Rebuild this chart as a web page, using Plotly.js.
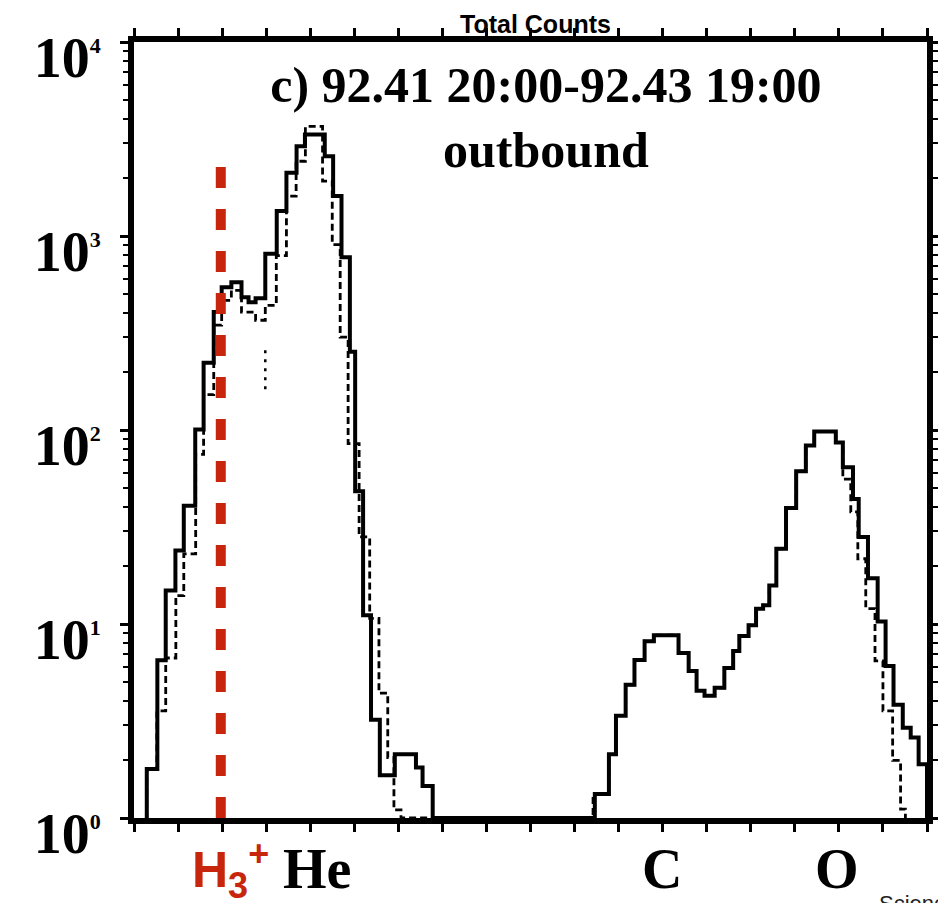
<!DOCTYPE html>
<html>
<head>
<meta charset="utf-8">
<script src="https://cdn.plot.ly/plotly-3.0.1.min.js"></script>
<style>html,body{margin:0;padding:0;background:#fff;}#chart{width:938px;height:903px;}</style>
</head>
<body>
<div id="chart"></div>
<script>
// ---- data (mass/charge bin edges and total counts) ----
// solid histogram, H/He group
const solidHeEdges = [0.29, 0.53, 0.72, 0.94, 1.13, 1.39, 1.58, 1.81, 1.99, 2.21, 2.44, 2.60, 2.76, 2.98, 3.24, 3.46, 3.69, 3.88, 4.33, 4.52, 4.71, 4.90, 5.02, 5.20, 5.38, 5.58, 5.92, 6.40, 6.55, 6.78];
const solidHeCounts = [1.79, 6.5, 14.9, 23.9, 40.7, 100.6, 222, 406, 545, 578, 484, 455, 477, 811, 1347, 2116, 2898, 3340, 2577, 1607, 777, 253, 48.4, 11.1, 3.21, 1.66, 2.13, 1.82, 1.46];
// solid histogram, C/O group
const solidCOEdges = [10.46, 10.78, 10.94, 11.16, 11.36, 11.59, 11.80, 12.36, 12.59, 12.77, 12.95, 13.18, 13.40, 13.60, 13.74, 13.95, 14.12, 14.28, 14.42, 14.58, 14.80, 15.03, 15.25, 15.44, 15.93, 16.09, 16.32, 16.45, 16.66, 16.88, 17.06, 17.24, 17.45, 17.63, 17.81, 18.0];
const solidCOCounts = [1.33, 2.13, 3.37, 4.86, 6.52, 8.16, 8.76, 7.08, 5.73, 4.53, 4.27, 4.69, 5.93, 7.25, 8.66, 9.85, 12.0, 12.5, 15.8, 24.4, 39.6, 61.3, 83.3, 98.2, 86.3, 64.3, 44.1, 28.1, 17.2, 10.3, 6.08, 3.84, 2.92, 2.60, 1.89];
// dashed histogram, H/He group
const dashedHeEdges = [0.29, 0.52, 0.72, 0.95, 1.13, 1.40, 1.58, 1.81, 1.99, 2.21, 2.44, 2.76, 2.98, 3.23, 3.46, 3.68, 3.89, 4.28, 4.50, 4.68, 4.86, 5.11, 5.35, 5.56, 5.76, 5.90, 6.06];
const dashedHeCounts = [1.8, 3.57, 6.68, 14.0, 23.0, 74.9, 152, 347, 466, 524, 405, 368, 439, 792, 1607, 2429, 3670, 1919, 902, 301, 85, 28.1, 10.7, 4.4, 2.05, 1.1];
// dashed histogram, C/O group
const dashedCOEdges = [10.42, 10.78, 10.94, 11.16, 11.36, 11.59, 11.80, 12.36, 12.59, 12.77, 12.95, 13.18, 13.40, 13.60, 13.74, 13.95, 14.12, 14.28, 14.42, 14.58, 14.80, 15.03, 15.25, 15.44, 15.93, 16.09, 16.27, 16.43, 16.61, 16.82, 17.00, 17.22, 17.40, 17.51];
const dashedCOCounts = [1.33, 2.13, 3.37, 4.86, 6.52, 8.16, 8.76, 7.08, 5.73, 4.53, 4.27, 4.69, 5.93, 7.25, 8.66, 9.85, 12.0, 12.5, 15.8, 24.4, 39.6, 61.3, 83.3, 98.2, 86.3, 55.8, 37.8, 21.7, 12.0, 6.45, 3.57, 1.98, 1.11];
// dotted fragment between H3+ and He
const dottedMass = [2.98, 2.98];
const dottedCounts = [258, 156];
// red H3+ marker line
const h3Mass = [1.97, 1.97];
const h3Counts = [1, 2371];
// species labels on the x axis
const speciesLabels = ['H<sub>3</sub><sup>+</sup>', 'He', 'C', 'O'];
const speciesMass = [2.2, 4.15, 11.99, 15.95];
// y tick labels
const yTickVals = [1, 10, 100, 1000, 10000];
const yTickExp = ['0', '1', '2', '3', '4'];
const titleLines = ['c) 92.41 20:00-92.43 19:00', 'outbound'];
const topLabel = 'Total Counts';

// build step paths from edges/counts (baseline = 1 count at the bottom of the log axis)
function stepPath(groups) {
  const xs = [], ys = [];
  groups.forEach(([edges, counts]) => {
    xs.push(edges[0]); ys.push(1);
    counts.forEach((c, i) => { xs.push(edges[i]); ys.push(c); });
    xs.push(edges[edges.length - 1]); ys.push(1);
  });
  return {x: xs, y: ys};
}
const solid = stepPath([[solidHeEdges, solidHeCounts], [solidCOEdges, solidCOCounts]]);
const dashed = stepPath([[dashedHeEdges, dashedHeCounts], [dashedCOEdges, dashedCOCounts]]);

const traces = [
  {x: dashed.x, y: dashed.y, mode: 'lines', line: {shape: 'hv', color: '#000', width: 2.8, dash: '7px,4px'}, hoverinfo: 'skip', showlegend: false},
  {x: solid.x, y: solid.y, mode: 'lines', line: {shape: 'hv', color: '#000', width: 4}, hoverinfo: 'skip', showlegend: false},
  {x: dottedMass, y: dottedCounts, mode: 'lines', line: {color: '#000', width: 2.5, dash: '3px,6px'}, hoverinfo: 'skip', showlegend: false},
  {x: h3Mass, y: h3Counts, mode: 'lines', line: {color: '#c8260c', width: 10, dash: '21px,21px'}, hoverinfo: 'skip', showlegend: false}
];

const serif = 'Liberation Serif, Times New Roman, serif';
const annotations = speciesLabels.map((t, i) => ({
  x: speciesMass[i], xref: 'x', y: -0.066, yref: 'paper', yanchor: 'middle', xanchor: 'center',
  text: i === 0 ? '<b>H<sub><span style="font-size:36px">3</span></sub><sup><span style="font-size:36px">+</span></sup></b>' : '<b>' + t + '</b>',
  showarrow: false,
  font: i === 0 ? {family: 'Liberation Sans, Arial, sans-serif', size: 50, color: '#c8260c'}
               : {family: serif, size: 56, color: '#000'}
}));
annotations.push({
  x: 0.5057, xref: 'paper', y: 1.023, yref: 'paper', xanchor: 'center', yanchor: 'middle',
  text: '<b>' + topLabel + '</b>', showarrow: false,
  font: {family: 'Liberation Sans, Arial, sans-serif', size: 25, color: '#000'}
});
annotations.push({
  x: 0.937, xref: 'paper', y: -0.092, yref: 'paper', xanchor: 'left', yanchor: 'top',
  text: 'Science', showarrow: false,
  font: {family: 'Liberation Sans, Arial, sans-serif', size: 22, color: '#222'}
});

const layout = {
  width: 938, height: 903,
  margin: {l: 134, r: 11, t: 42, b: 85},
  paper_bgcolor: '#fff', plot_bgcolor: '#fff',
  title: {
    text: '<b>' + titleLines.join('<br>') + '</b>',
    x: 0.582, xref: 'container', xanchor: 'center',
    y: 0.887, yref: 'container', yanchor: 'middle',
    font: {family: serif, size: 50, color: '#000'}
  },
  xaxis: {
    range: [0, 18], showgrid: false, zeroline: false,
    showline: true, linewidth: 6, linecolor: '#000', mirror: 'ticks',
    ticks: 'outside', ticklen: 8, tickwidth: 3, tickcolor: '#000',
    tick0: 0, dtick: 1, showticklabels: false, fixedrange: true
  },
  yaxis: {
    type: 'log', range: [0, 4], showgrid: false, zeroline: false,
    showline: true, linewidth: 6, linecolor: '#000', mirror: 'ticks',
    ticks: 'outside', ticklen: 8, tickwidth: 3, tickcolor: '#000',
    tickvals: yTickVals,
    ticktext: yTickExp.map(e => '10<sup><span style="font-size:22px">' + e + '</span></sup>'),
    tickfont: {family: serif, size: 56, color: '#000', weight: 'bold'},
    ticklabelstandoff: 8, ticklabelshift: 15,
    minor: {ticks: 'outside', ticklen: 5, tickwidth: 2, tickcolor: '#000', showgrid: false, dtick: 'D1'},
    fixedrange: true
  },
  annotations: annotations,
  showlegend: false
};

Plotly.newPlot('chart', traces, layout, {staticPlot: true, displayModeBar: false});
</script>
</body>
</html>
